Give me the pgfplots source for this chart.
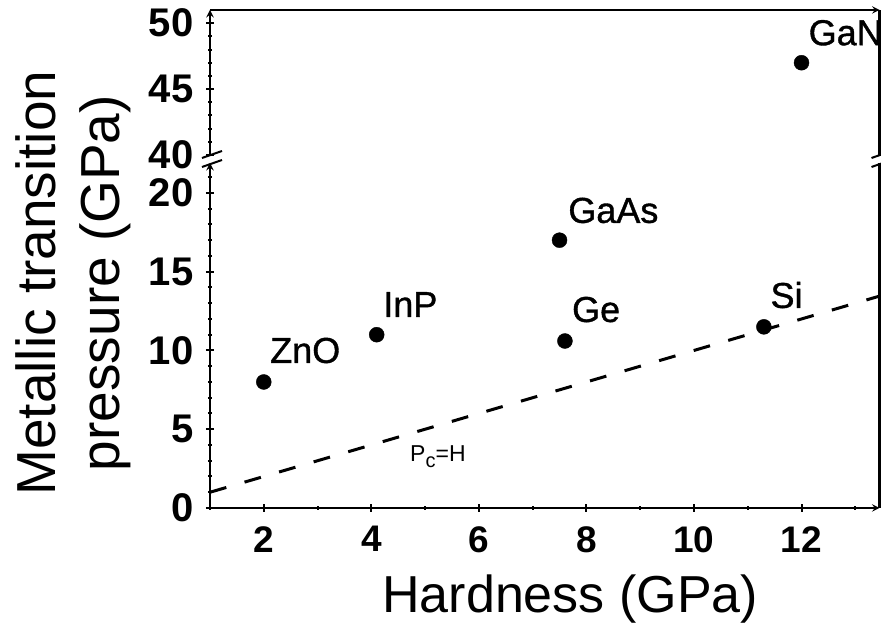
\documentclass[border=0pt]{standalone}
\usepackage{fontspec}
\setmainfont{Liberation Sans}
\newfontfamily\lblfont[FakeBold=1.0]{Liberation Sans}
\usepackage{pgfplots}
\pgfplotsset{compat=1.18}
\pgfplotsset{
  brk/.style={
    scale only axis, width=669.5pt,
    xmin=1, xmax=13.45,
    axis line style={line width=2.2pt,-},
    every tick/.style={line width=2pt, black},
    major tick length=8pt, minor tick length=4pt,
    tick align=outside,
    /pgf/number format/assume math mode=true,
    xticklabel style={font=\fontsize{37}{40}\selectfont\bfseries, yshift=-11pt},
    yticklabel style={font=\fontsize{40}{44}\selectfont\bfseries, xshift=-9pt},
    clip=false,
  },
}
\tikzset{lbl/.style={anchor=base west, inner sep=0pt, font=\fontsize{36}{40}\lblfont}}
\begin{document}
\begin{tikzpicture}
\useasboundingbox (0pt,0pt) rectangle (881pt,628pt);
% lower panel
\begin{axis}[brk, at={(210pt,120pt)}, anchor=south west, height=345pt,
  ymin=0, ymax=21.9,
  axis x line=bottom, axis y line=left,
  xtick={2,4,6,8,10,12}, minor xtick={1,3,5,7,9,11,13},
  ytick={0,5,10,15,20},
  minor ytick={1,2,3,4,6,7,8,9,11,12,13,14,16,17,18,19,21},
  xlabel={Hardness (GPa)},
  xlabel style={font=\fontsize{52}{60}\selectfont, at={(axis description cs:0.538,0)}, anchor=base, inner sep=0pt, yshift=-105pt},
  ylabel={Metallic transition\\pressure (GPa)},
  ylabel style={font=\fontsize{55}{64}\selectfont, align=center, inner sep=0pt, at={(axis description cs:-0.2905,0.652)}, anchor=north},
]
\addplot[black, line width=3pt, dash pattern=on 17pt off 19pt] coordinates {(1,1) (13.45,13.45)};
\addplot[only marks, mark=*, mark size=7.5pt, black] coordinates {
  (2.0,8.0) (4.1,11.0) (7.5,17.0) (7.6,10.6) (11.3,11.5)
};
\node[lbl] at (axis cs:2.116,9.21) {ZnO};
\node[lbl] at (axis cs:4.22,12.13) {InP};
\node[lbl] at (axis cs:7.66,18.1) {GaAs};
\node[lbl] at (axis cs:7.73,11.81) {Ge};
\node[lbl] at (axis cs:11.42,12.7) {Si};
\node[anchor=base west, inner sep=0pt, font=\fontsize{23}{26}\selectfont] at (axis cs:4.72,2.92) {P\raisebox{-6pt}{\fontsize{20}{22}\selectfont c}=H};
\draw[line width=2.2pt] (rel axis cs:1,0) -- (rel axis cs:1,1);
\draw[line width=2pt] ([xshift=-8pt,yshift=5pt]rel axis cs:0,1) -- ([xshift=12pt,yshift=12pt]rel axis cs:0,1);
\draw[line width=2pt] ([xshift=-8pt,yshift=-4pt]rel axis cs:0,1) -- ([xshift=12pt,yshift=3pt]rel axis cs:0,1);
\draw[line width=2pt] ([xshift=-8pt,yshift=5pt]rel axis cs:1,1) -- ([xshift=12pt,yshift=12pt]rel axis cs:1,1);
\draw[line width=2pt] ([xshift=-8pt,yshift=-4pt]rel axis cs:1,1) -- ([xshift=12pt,yshift=3pt]rel axis cs:1,1);
\end{axis}
% upper panel
\begin{axis}[brk, at={(210pt,473pt)}, anchor=south west, height=145pt,
  ymin=40, ymax=51,
  axis x line=top, axis y line=left,
  xtick=\empty,
  ytick={40,45,50},
  minor ytick={41,42,43,44,46,47,48,49},
]
\addplot[only marks, mark=*, mark size=7.5pt, black] coordinates {(12.0,47.0)};
\node[lbl] at (axis cs:12.13,48.33) {GaN};
\draw[line width=2.2pt] (rel axis cs:1,0) -- (rel axis cs:1,1);
\end{axis}
\end{tikzpicture}
\end{document}
